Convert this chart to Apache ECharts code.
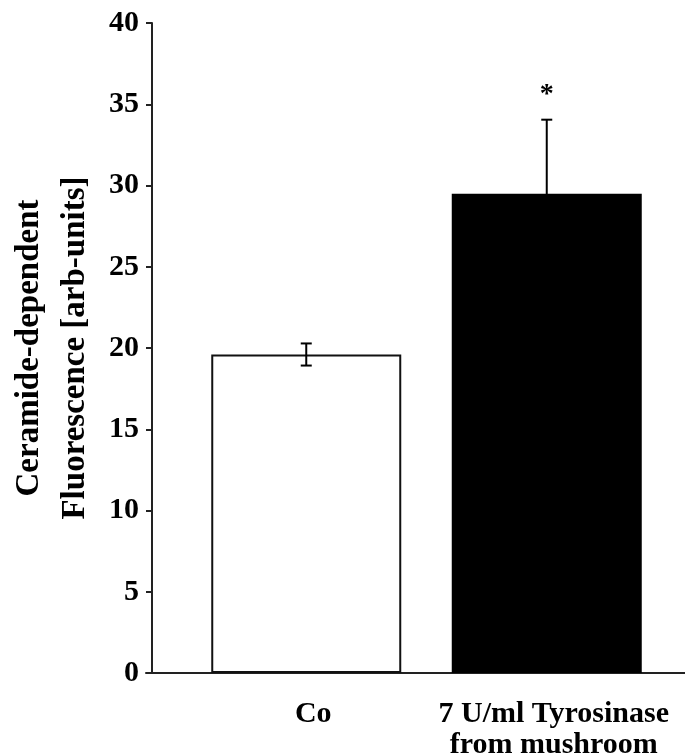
<!DOCTYPE html>
<html>
<head>
<meta charset="utf-8">
<script src="https://cdn.jsdelivr.net/npm/echarts@6/dist/echarts.min.js"></script>
<style>html,body{margin:0;padding:0;background:#fff}#c{width:685px;height:756px}</style>
</head>
<body>
<div id="c"></div>
<script>
const categories = ['Co', '7 U/ml Tyrosinase\nfrom mushroom'];
const means = [19.6, 29.5];
const errors = [0.68, 4.55];
const significance = ['', '*'];
const yTicks = {min: 0, max: 40, interval: 5};
const yTitle = 'Ceramide-dependent\nFluorescence [arb-units]';

const FONT = '"Liberation Serif", "Times New Roman", serif';
const chart = echarts.init(document.getElementById('c'));
chart.setOption({
  animation: false,
  backgroundColor: '#fff',
  grid: [
    {left: 186, right: 18, top: 23, bottom: 83, containLabel: false, outerBoundsMode: 'none'},
    {left: 146, right: 0, top: 23, bottom: 83, containLabel: false, outerBoundsMode: 'none'}
  ],
  xAxis: [
    {
      type: 'category', gridIndex: 0, data: categories,
      axisLine: {show: false}, axisTick: {show: false},
      axisLabel: {
        margin: 26, interval: 0, color: '#000', fontFamily: FONT,
        fontWeight: 'bold', fontSize: 30, lineHeight: 31, padding: [0, 0, 0, 14]
      }
    },
    {
      type: 'value', gridIndex: 1, min: 0, max: 1,
      axisLine: {show: true, lineStyle: {color: '#222', width: 2}},
      axisTick: {show: false}, axisLabel: {show: false}, splitLine: {show: false}
    }
  ],
  yAxis: [
    {
      type: 'value', gridIndex: 0, min: yTicks.min, max: yTicks.max, interval: yTicks.interval,
      offset: 34,
      axisLine: {show: true, lineStyle: {color: '#222', width: 2}},
      axisTick: {show: true, inside: false, length: 6, lineStyle: {color: '#222', width: 2}},
      axisLabel: {margin: 13, color: '#000', fontFamily: FONT, fontWeight: 'bold', fontSize: 30},
      splitLine: {show: false},
      name: yTitle, nameLocation: 'middle', nameRotate: 90, nameGap: 53,
      nameTextStyle: {color: '#000', fontFamily: FONT, fontWeight: 'bold', fontSize: 33, lineHeight: 46}
    },
    {
      type: 'value', gridIndex: 1, min: 0, max: 1, show: false
    }
  ],
  series: [
    {
      type: 'bar', xAxisIndex: 0, yAxisIndex: 0,
      barWidth: 190,
      data: means.map((v, i) => ({
        value: v,
        itemStyle: i === 0
          ? {color: '#fff', borderColor: '#111', borderWidth: 2}
          : {color: '#000', borderColor: '#000', borderWidth: 2}
      })),
      z: 2
    },
    {
      type: 'custom', xAxisIndex: 0, yAxisIndex: 0, z: 5,
      data: means.map((v, i) => [i, v - errors[i], v + errors[i], significance[i]]),
      renderItem: function (params, api) {
        const x = api.coord([api.value(0), 0])[0];
        const lo = api.coord([api.value(0), api.value(1)])[1];
        const hi = api.coord([api.value(0), api.value(2)])[1];
        const cap = 5.5;
        const style = {stroke: '#000', lineWidth: 2};
        const children = [
          {type: 'line', shape: {x1: x, y1: lo, x2: x, y2: hi}, style: style},
          {type: 'line', shape: {x1: x - cap, y1: hi, x2: x + cap, y2: hi}, style: style},
          {type: 'line', shape: {x1: x - cap, y1: lo, x2: x + cap, y2: lo}, style: style}
        ];
        const sig = api.value(3);
        if (sig) {
          children.push({
            type: 'text',
            style: {
              x: x, y: hi - 25, text: sig, align: 'center', verticalAlign: 'middle',
              fill: '#000', font: 'bold 28px ' + FONT
            }
          });
        }
        return {type: 'group', children: children};
      }
    }
  ]
});
</script>
</body>
</html>
